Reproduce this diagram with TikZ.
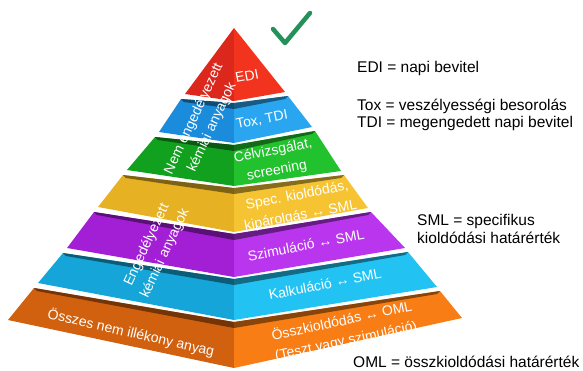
\documentclass[tikz,border=0pt]{standalone}
\usepackage{fontspec}
\setmainfont{Liberation Sans}
\usetikzlibrary{calc}
\definecolor{redL}{HTML}{DC271C}
\definecolor{redR}{HTML}{F2341F}
\definecolor{blueL}{HTML}{1A8CDB}
\definecolor{blueR}{HTML}{2AA6F0}
\definecolor{greenL}{HTML}{12A11F}
\definecolor{greenR}{HTML}{22C12E}
\definecolor{yelL}{HTML}{E6B224}
\definecolor{yelR}{HTML}{F6C433}
\definecolor{purL}{HTML}{A21FD6}
\definecolor{purR}{HTML}{BA35EE}
\definecolor{cyanL}{HTML}{16A5D8}
\definecolor{cyanR}{HTML}{22C3F2}
\definecolor{oraL}{HTML}{D1600F}
\definecolor{oraR}{HTML}{F87D14}
\definecolor{tick}{HTML}{24905A}
\newcommand\pyrlayer[8]{%
  \fill[#7] (#1) -- (#2) -- (#3) -- (#6) -- cycle;
  \fill[#8] (#6) -- (#3) -- (#4) -- (#5) -- cycle;
  \fill[#7!55!black] (#1) -- (#6) -- ($(#6)+(0,6)$) -- ($(#1)+(3,3)$) -- cycle;
  \fill[#8!55!black] (#6) -- (#5) -- ($(#5)+(-3,3)$) -- ($(#6)+(0,6)$) -- cycle;
}
\begin{document}
\begin{tikzpicture}[x=1pt,y=-1pt,
  lbl/.style={text=white,font=\fontsize{14}{20}\selectfont,align=center,inner sep=0pt},
  legend/.style={text=black,font=\fontsize{15.5}{18}\selectfont,anchor=base west,inner sep=0pt}]
\useasboundingbox (0,0) rectangle (583,370);
% layers, bottom to top
\pyrlayer{34,288}{8,320}{234,368}{462,318}{440,291}{234,322}{oraL}{oraR}
\pyrlayer{63,253}{38,283}{234,320}{437,287}{408,252}{234,279}{cyanL}{cyanR}
\pyrlayer{94,212}{67,248}{234,277}{405,248}{371,212}{234,234}{purL}{purR}
\pyrlayer{123,175}{98,207}{234,232}{368,208}{344,175}{234,188}{yelL}{yelR}
\pyrlayer{155,137}{127,170}{234,186}{341,171}{315,131}{234,145}{greenL}{greenR}
\pyrlayer{181,99}{159,132}{234,143}{312,127}{288,96}{234,103}{blueL}{blueR}
\fill[redL] (234,28) -- (185,94) -- (234,101) -- cycle;
\fill[redR] (234,28) -- (234,101) -- (285,92) -- cycle;
% check mark
\draw[tick,line width=4.5pt,line cap=round,line join=round] (273,29) -- (285,43) -- (310,13);
% labels on right faces
\node[lbl,rotate=11] (edi) at (247,76) {EDI};
\node[lbl,rotate=11] (tox) at (262,120) {Tox, TDI};
\node[lbl,rotate=11] (celv) at (275,161) {Célvizsgálat,\\screening};
\node[lbl,rotate=11] (spec) at (299,206) {Spec. kioldódás,\\kipárolgás ↔ SML};
\node[lbl,rotate=11] (szim) at (306,245) {Szimuláció ↔ SML};
\node[lbl,rotate=11] (kalk) at (325,284) {Kalkuláció ↔ SML};
\node[lbl,rotate=12] (ossz) at (344,331) {Összkioldódás ↔ OML\\(Teszt vagy szimuláció)};
% labels on left faces
\node[lbl,rotate=65] (nem) at (203,123) {Nem engedélyezett\\kémiai anyagok};
\node[lbl,rotate=65] (eng) at (156,249) {Engedélyezett\\kémiai anyagok};
\node[lbl,rotate=-13] (osszes) at (131,333) {Összes nem illékony anyag};
% legend
\node[legend] (l1) at (357,72.5) {EDI = napi bevitel};
\node[legend] (l2) at (357,110) {Tox = veszélyességi besorolás};
\node[legend] (l3) at (357,127) {TDI = megengedett napi bevitel};
\node[legend] (l4) at (417,225) {SML = specifikus};
\node[legend] (l5) at (417,243) {kioldódási határérték};
\node[legend] (l6) at (353,367) {OML = összkioldódási határérték};
\end{tikzpicture}
\end{document}
